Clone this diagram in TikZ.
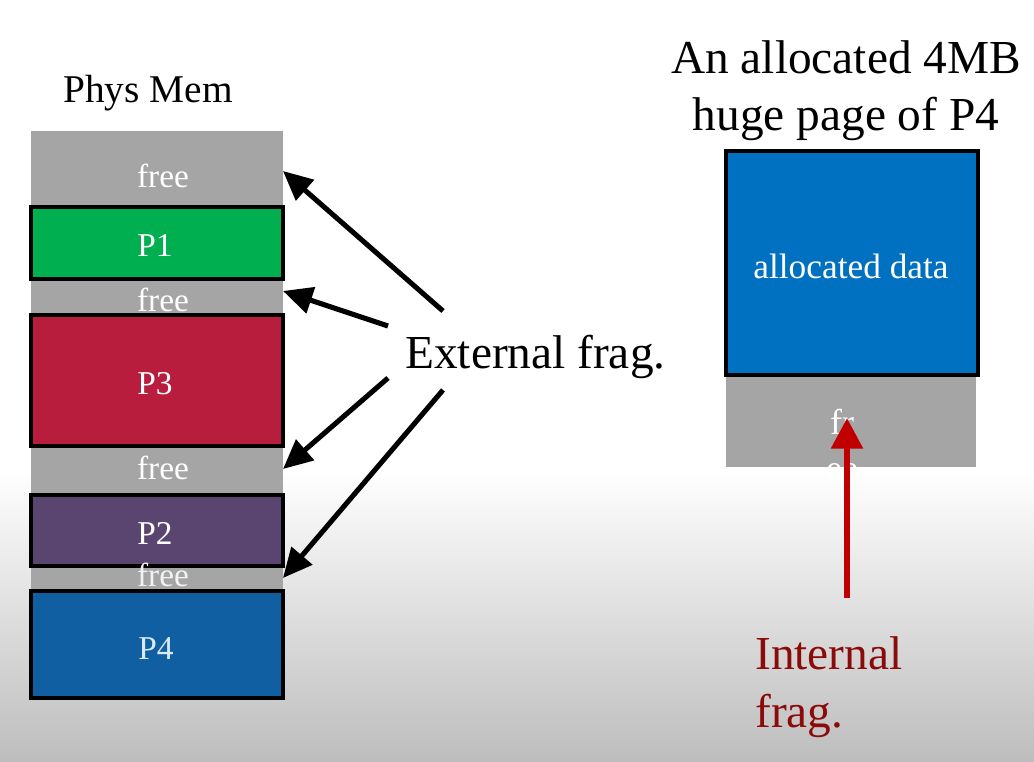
\documentclass[tikz,border=0pt]{standalone}
\usepackage{fontspec}
\setmainfont{Liberation Serif}
\usetikzlibrary{arrows.meta}
\definecolor{freegray}{HTML}{A5A5A5}
\definecolor{pgreen}{HTML}{00AF50}
\definecolor{pred}{HTML}{B91D3D}
\definecolor{ppurple}{HTML}{5A4571}
\definecolor{pblue}{HTML}{0F5FA2}
\definecolor{ablue}{HTML}{0070C0}
\definecolor{darkred}{HTML}{8B0A0A}
\definecolor{arrowred}{HTML}{C00000}
\definecolor{bggray}{HTML}{BDBDBD}
\tikzset{
  procbox/.style={draw=black, line width=2.4pt},
  boxlabel/.style={text=white, font=\fontsize{25}{28}\selectfont, inner sep=0pt},
  biglabel/.style={font=\fontsize{35.5}{43}\selectfont, inner sep=0pt},
  extarrow/.style={draw=black, line width=3.8pt, -{Triangle[length=22pt,width=20pt]}},
  intarrow/.style={draw=arrowred, line width=5pt, -{Triangle[length=23pt,width=23pt]}}
}
\begin{document}
\begin{tikzpicture}[x=0.75pt,y=-0.75pt]
\useasboundingbox (0,0) rectangle (1034,762);
% background
\fill[white] (0,0) rectangle (1034,470);
\shade[top color=white, bottom color=bggray] (0,470) rectangle (1034,762);
% phys mem column
\node[font=\fontsize{29.5}{34}\selectfont, inner sep=0pt] (physmem) at (148,93) {Phys Mem};
\fill[freegray] (31,131) rectangle (283,591);
\draw[procbox, fill=pgreen] (31,207) rectangle (283,279);
\draw[procbox, fill=pred] (31,315) rectangle (283,446);
\draw[procbox, fill=ppurple] (31,495) rectangle (283,566);
\draw[procbox, fill=pblue] (31,591) rectangle (283,698);
\node[boxlabel] (free1) at (163,176) {free};
\node[boxlabel] (p1) at (155,246) {P1};
\node[boxlabel] (free2) at (163,300) {free};
\node[boxlabel] (p3) at (155,384) {P3};
\node[boxlabel] (free3) at (163,468) {free};
\node[boxlabel] (p2) at (155,533) {P2};
\node[boxlabel, text=white!90!gray] (free4) at (163,575) {free};
\node[boxlabel, text=white!85!ablue] (p4) at (156,649) {P4};
% external frag
\node[biglabel, anchor=west] (ext) at (405,357) {External frag.};
\coordinate (s1) at (443,311);
\coordinate (s2) at (388,326);
\coordinate (s3) at (388,378);
\coordinate (s4) at (443,390);
\coordinate (t1) at (283,171);
\coordinate (t2) at (283,291);
\coordinate (t3) at (283,469);
\coordinate (t4) at (283,578);
\draw[extarrow] (s1) -- (t1);
\draw[extarrow] (s2) -- (t2);
\draw[extarrow] (s3) -- (t3);
\draw[extarrow] (s4) -- (t4);
% huge page
\node[biglabel, align=center] (title) at (846,91) {An allocated 4MB\\huge page of P4};
\fill[freegray] (726,375) rectangle (976,467);
\draw[procbox, fill=ablue] (726,151) rectangle (978,375);
\node[boxlabel, font=\fontsize{26.5}{30}\selectfont] (alloc) at (851,266) {allocated data};
\node[boxlabel, font=\fontsize{27}{30}\selectfont] (fr) at (842,422) {fr};
\node[boxlabel, font=\fontsize{27}{30}\selectfont] (ee) at (842,472) {ee};
% internal frag
\coordinate (is) at (847,598);
\coordinate (it) at (847,418);
\draw[intarrow] (is) -- (it);
\node[biglabel, text=darkred, align=left, anchor=north west, font=\fontsize{35.5}{43.5}\selectfont] (int) at (755,636) {Internal\\frag.};
\end{tikzpicture}
\end{document}
